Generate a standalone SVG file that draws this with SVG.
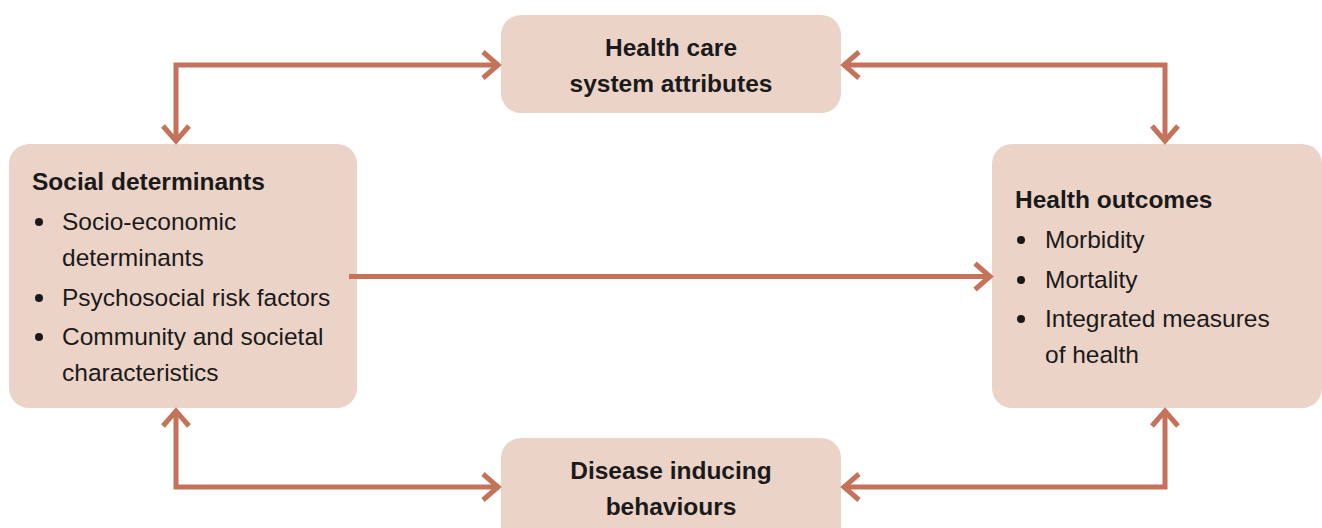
<svg xmlns="http://www.w3.org/2000/svg" width="1322" height="528" viewBox="0 0 1322 528">
<defs>
<style>
.box{fill:#ecd3c7}
.conn{fill:none;stroke:#c4735a;stroke-width:5}
.t{font-family:"Liberation Sans",Arial,sans-serif;font-size:24.5px;fill:#1a1a1a}
.b{font-weight:bold}
.c{text-anchor:middle}
.dot{fill:#1a1a1a}
</style>
<marker id="ah" markerUnits="userSpaceOnUse" viewBox="-20 -16 24 32" markerWidth="24" markerHeight="32" refX="0" refY="0" orient="auto-start-reverse" overflow="visible">
<path d="M-16,-13 L-1,0 L-16,13" fill="none" stroke="#c4735a" stroke-width="5"/>
</marker>
</defs>
<rect width="1322" height="528" fill="#ffffff"/>
<g id="health-care">
<rect class="box" x="501" y="15" width="340" height="98" rx="20"/>
<text class="t b c" x="671" y="56">Health care</text>
<text class="t b c" x="671" y="92">system attributes</text>
</g>
<g id="social-determinants">
<rect class="box" x="9" y="144" width="348" height="264" rx="20"/>
<text class="t b" x="32" y="190">Social determinants</text>
<circle class="dot" cx="39" cy="222" r="4"/>
<text class="t" x="62" y="230">Socio-economic</text>
<text class="t" x="62" y="266">determinants</text>
<circle class="dot" cx="39" cy="298" r="4"/>
<text class="t" x="62" y="306">Psychosocial risk factors</text>
<circle class="dot" cx="39" cy="337" r="4"/>
<text class="t" x="62" y="345">Community and societal</text>
<text class="t" x="62" y="381">characteristics</text>
</g>
<g id="health-outcomes">
<rect class="box" x="992" y="144" width="330" height="264" rx="20"/>
<text class="t b" x="1015" y="208">Health outcomes</text>
<circle class="dot" cx="1021" cy="240" r="4"/>
<text class="t" x="1045" y="248">Morbidity</text>
<circle class="dot" cx="1021" cy="280" r="4"/>
<text class="t" x="1045" y="288">Mortality</text>
<circle class="dot" cx="1021" cy="319" r="4"/>
<text class="t" x="1045" y="327">Integrated measures</text>
<text class="t" x="1045" y="363">of health</text>
</g>
<g id="disease-behaviours">
<rect class="box" x="501" y="438" width="340" height="110" rx="20"/>
<text class="t b c" x="671" y="479">Disease inducing</text>
<text class="t b c" x="671" y="515">behaviours</text>
</g>
<g id="connectors">
<polyline class="conn" points="176,142 176,65 499,65" marker-start="url(#ah)" marker-end="url(#ah)"/>
<polyline class="conn" points="843,65 1165,65 1165,142" marker-start="url(#ah)" marker-end="url(#ah)"/>
<line class="conn" x1="349" y1="276.5" x2="991" y2="276.5" marker-end="url(#ah)"/>
<polyline class="conn" points="176,410 176,487 499,487" marker-start="url(#ah)" marker-end="url(#ah)"/>
<polyline class="conn" points="843,487 1165,487 1165,410" marker-start="url(#ah)" marker-end="url(#ah)"/>
</g>
</svg>
